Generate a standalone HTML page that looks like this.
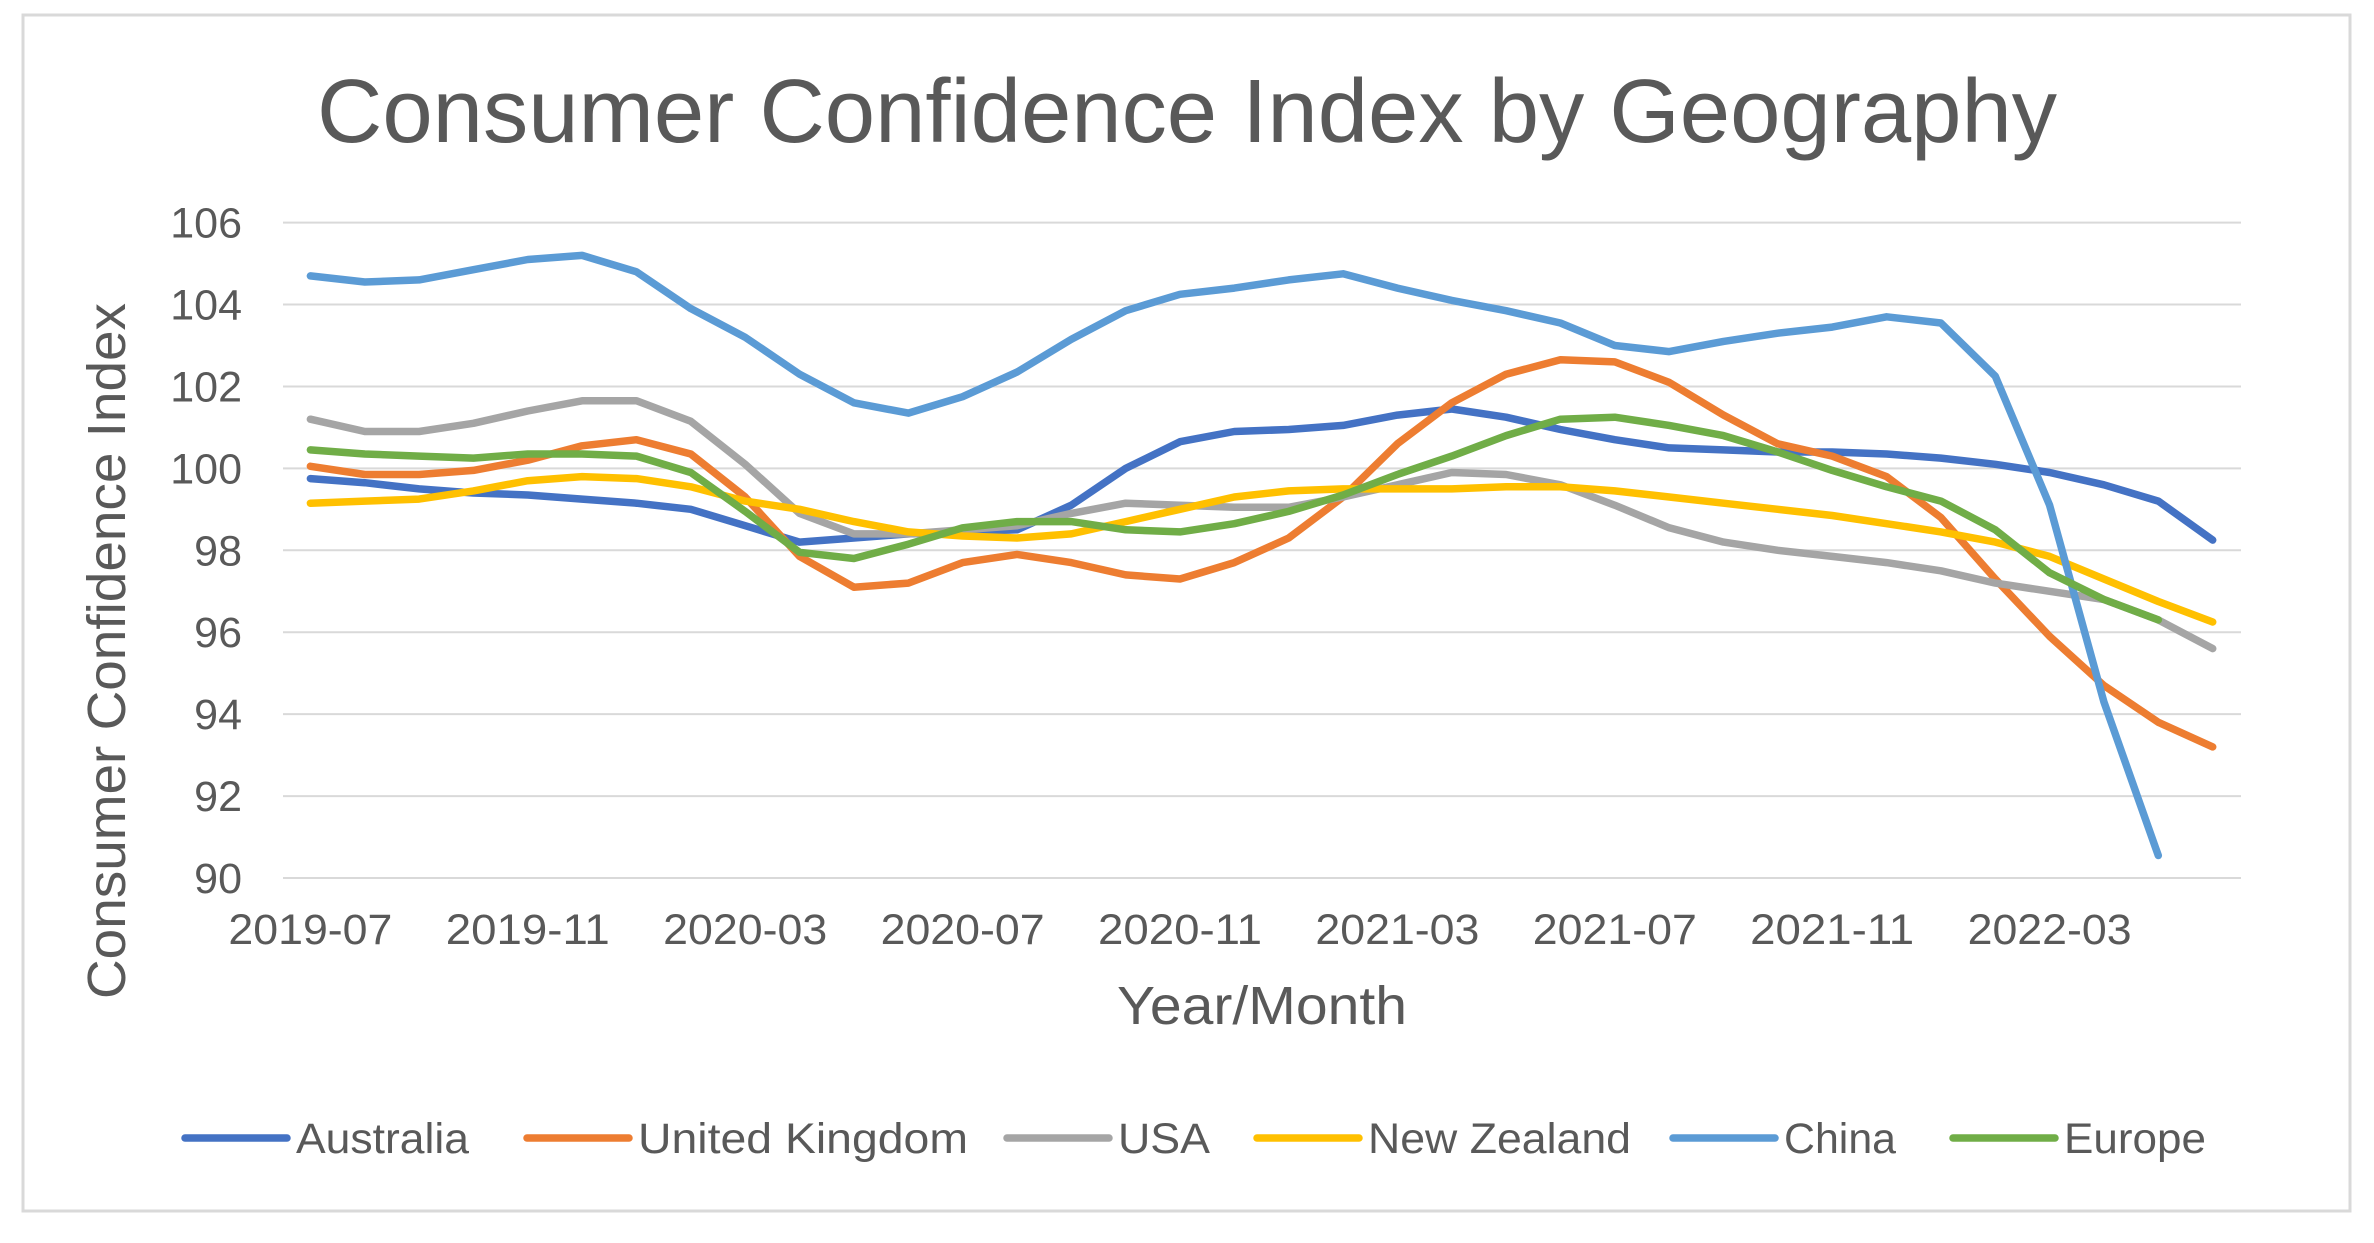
<!DOCTYPE html>
<html><head><meta charset="utf-8">
<style>
html,body{margin:0;padding:0;background:#fff;}
svg text{font-family:"Liberation Sans",sans-serif;fill:#595959;}
</style></head>
<body>
<svg id="chart" width="2374" height="1238" viewBox="0 0 2374 1238" xmlns="http://www.w3.org/2000/svg">
<rect x="23" y="15" width="2327" height="1196" fill="#fff" stroke="#d9d9d9" stroke-width="3"/>
<text x="1187" y="142" font-size="90" text-anchor="middle" textLength="1740" lengthAdjust="spacingAndGlyphs">Consumer Confidence Index by Geography</text>
<g id="grid"></g><g id="yticks"></g><g id="xticks"></g><g id="series"></g>
<text transform="translate(125,651) rotate(-90)" font-size="54" text-anchor="middle" textLength="696" lengthAdjust="spacingAndGlyphs">Consumer Confidence Index</text>
<text x="1262" y="1024" font-size="54" text-anchor="middle" textLength="290" lengthAdjust="spacingAndGlyphs">Year/Month</text>
<g id="legend"></g>
</svg>
<script>
const months=["2019-07","2019-08","2019-09","2019-10","2019-11","2019-12","2020-01","2020-02","2020-03","2020-04","2020-05","2020-06","2020-07","2020-08","2020-09","2020-10","2020-11","2020-12","2021-01","2021-02","2021-03","2021-04","2021-05","2021-06","2021-07","2021-08","2021-09","2021-10","2021-11","2021-12","2022-01","2022-02","2022-03","2022-04","2022-05","2022-06"];
const yTicks=[90,92,94,96,98,100,102,104,106];
const seriesNames=["Australia","United Kingdom","USA","New Zealand","China","Europe"];
const seriesColors=["#4472c4","#ed7d31","#a5a5a5","#ffc000","#5b9bd5","#70ad47"];
const australia=[99.75,99.65,99.5,99.4,99.35,99.25,99.15,99.0,98.6,98.2,98.3,98.4,98.45,98.5,99.1,100.0,100.65,100.9,100.95,101.05,101.3,101.45,101.25,100.95,100.7,100.5,100.45,100.4,100.4,100.35,100.25,100.1,99.9,99.6,99.2,98.25];
const uk=[100.05,99.85,99.85,99.95,100.2,100.55,100.7,100.35,99.3,97.85,97.1,97.2,97.7,97.9,97.7,97.4,97.3,97.7,98.3,99.3,100.6,101.6,102.3,102.65,102.6,102.1,101.3,100.6,100.3,99.8,98.8,97.3,95.9,94.7,93.8,93.2];
const usa=[101.2,100.9,100.9,101.1,101.4,101.65,101.65,101.15,100.1,98.9,98.4,98.4,98.5,98.6,98.9,99.15,99.1,99.05,99.05,99.3,99.6,99.9,99.85,99.6,99.1,98.55,98.2,98.0,97.85,97.7,97.5,97.2,97.0,96.8,96.3,95.6];
const nz=[99.15,99.2,99.25,99.45,99.7,99.8,99.75,99.55,99.2,99.0,98.7,98.45,98.35,98.3,98.4,98.7,99.0,99.3,99.45,99.5,99.5,99.5,99.55,99.55,99.45,99.3,99.15,99.0,98.85,98.65,98.45,98.2,97.85,97.3,96.75,96.25];
const china=[104.7,104.55,104.6,104.85,105.1,105.2,104.8,103.9,103.2,102.3,101.6,101.35,101.75,102.35,103.15,103.85,104.25,104.4,104.6,104.75,104.4,104.1,103.85,103.55,103.0,102.85,103.1,103.3,103.45,103.7,103.55,102.25,99.1,94.3,90.55];
const europe=[100.45,100.35,100.3,100.25,100.35,100.35,100.3,99.9,98.95,97.95,97.8,98.15,98.55,98.7,98.7,98.5,98.45,98.65,98.95,99.35,99.85,100.3,100.8,101.2,101.25,101.05,100.8,100.4,99.95,99.55,99.2,98.5,97.45,96.8,96.3];
const allSeries=[australia,uk,usa,nz,china,europe];

const NS="http://www.w3.org/2000/svg";
const X0=310.4, STEP=54.35, Y90=878, Y106=222.6, PL=283, PR=2241;
function xs(i){return X0+i*STEP;}
function ys(v){return Y90-(v-90)*(Y90-Y106)/16;}
function mk(tag,attrs,parent){const e=document.createElementNS(NS,tag);for(const k in attrs)e.setAttribute(k,attrs[k]);parent.appendChild(e);return e;}

const grid=document.getElementById('grid'),yt=document.getElementById('yticks'),xt=document.getElementById('xticks');
yTicks.forEach(v=>{
  const l=mk('line',{x1:PL,x2:PR,y1:ys(v),y2:ys(v),stroke:'#d9d9d9','stroke-width':2},grid);
  
  
  const t=mk('text',{x:242,y:ys(v)+15,'font-size':43,'text-anchor':'end'},yt);
  t.textContent=v;
  
  
});
months.forEach((m,i)=>{
  if(i%4!==0)return;
  const t=mk('text',{x:xs(i),y:944,'font-size':43,'text-anchor':'middle',textLength:164,lengthAdjust:'spacingAndGlyphs'},xt);
  t.textContent=m;
  
  
});
const sg=document.getElementById('series');
allSeries.forEach((arr,s)=>{
  const d=arr.map((v,i)=>(i?'L':'M')+xs(i).toFixed(1)+','+ys(v).toFixed(1)).join(' ');
  const p=mk('path',{d:d,fill:'none',stroke:seriesColors[s],'stroke-width':7.5,'stroke-linejoin':'round','stroke-linecap':'round'},sg);
  
  
});
const lg=document.getElementById('legend');
const lx=[185,527,1007,1257,1673,1953];
const lw=[173,330,92,263,112,142];
seriesNames.forEach((n,s)=>{
  const g=mk('g',{},lg);
  
  
  mk('line',{x1:lx[s],x2:lx[s]+102,y1:1138,y2:1138,stroke:seriesColors[s],'stroke-width':7.5,'stroke-linecap':'round'},g);
  const t=mk('text',{x:lx[s]+111,y:1153,'font-size':43,textLength:lw[s],lengthAdjust:'spacingAndGlyphs'},g);
  t.textContent=n;
});
</script>
</body></html>
